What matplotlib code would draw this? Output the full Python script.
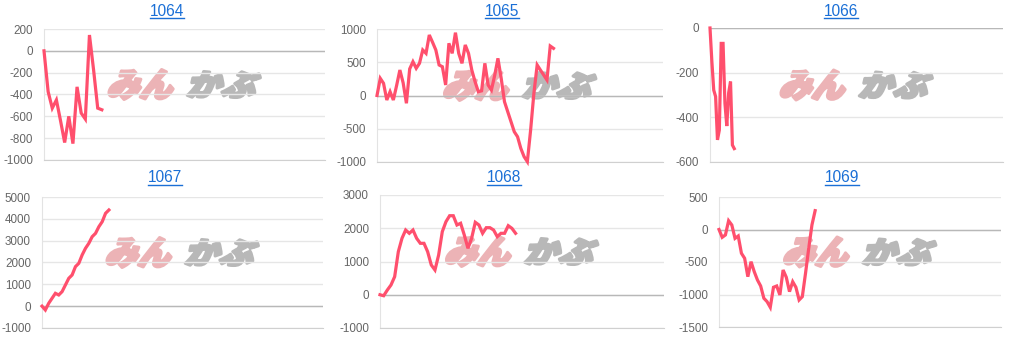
import numpy as np
import matplotlib
matplotlib.use("Agg")
import matplotlib.pyplot as plt
from matplotlib.textpath import TextPath
from matplotlib.font_manager import FontProperties
from matplotlib.patches import PathPatch
from matplotlib.transforms import Affine2D, IdentityTransform
from matplotlib.lines import Line2D

plt.rcParams['font.family'] = ['Liberation Sans', 'DejaVu Sans']

# --- data ---
codes = ['1064', '1065', '1066', '1067', '1068', '1069']

s1064 = [0, -374, -525, -450, -640, -840, -600, -850, -330, -570, -625, 145, -175, -525, -540]
s1065 = [0, 258, 183, -68, 57, -68, 150, 383, 190, -117, 400, 508, 409, 484, 684, 634, 910,
         800, 684, 459, 433, 158, 785, 634, 945, 634, 484, 760, 634, 383, 208, 57, 70, 484,
         158, 83, 300, 559, 258, -93, -244, -394, -545, -620, -795, -920, -995, -519, 33,
         459, 383, 308, 233, 744, 709]
s1066 = [0, -150, -278, -307, -501, -457, -69, -69, -337, -439, -290, -240, -524, -540]
s1067 = [0, -175, 131, 360, 589, 512, 665, 970, 1276, 1428, 1810, 1963, 2344, 2650, 2879,
         3182, 3335, 3640, 3869, 4253, 4405]
s1068 = [0, -30, 142, 293, 543, 1295, 1697, 1947, 1848, 1947, 1697, 1547, 1547, 1295, 894,
         744, 1195, 1898, 2197, 2377, 2377, 2098, 2150, 1797, 1397, 1697, 2179, 2098, 1848,
         2017, 2017, 1947, 1747, 1848, 1848, 2077, 1997, 1848]
s1069 = [0, -120, -84, 135, 69, -136, -100, -366, -443, -726, -495, -649, -777, -869, -1058,
         -1110, -1197, -889, -869, -1007, -623, -735, -956, -803, -889, -1084, -1033, -674,
         -289, 69, 290]
series = [s1064, s1065, s1066, s1067, s1068, s1069]

yticks = [np.arange(-1000, 201, 200), np.arange(-1000, 1001, 500), np.arange(-600, 1, 200),
          np.arange(-1000, 5001, 1000), np.arange(-1000, 3001, 1000), np.arange(-1500, 501, 500)]

# --- layout (pixels) ---
W, H = 1011, 337
rects = [(44, 325, 29, 160), (377, 663, 29, 162), (710, 1003, 28, 162),
         (42, 323, 197, 328), (380, 664, 195, 328), (719, 1001, 197, 327)]
xspan = [68, 87.5, 157, 84, 77.5, 88]
title_pos = [(167, 11), (502, 11), (841, 11), (165, 178), (504, 178), (842, 178)]

line_color = '#ff4f6d'
fig = plt.figure(figsize=(W / 100, H / 100), dpi=100)

cjk = FontProperties(family='Noto Sans CJK JP', weight='black')


def logo_part(ax, text, x0, x1, ytop, ybot, color):
    path = TextPath((0, 0), text, prop=cjk, size=1)
    ext = path.get_extents()
    h = ybot - ytop
    skew = np.tan(np.radians(18)) * h
    w = (x1 - x0) - skew
    tr = (Affine2D().translate(-ext.x0, -ext.y0)
          .scale(w / ext.width, h / ext.height)
          .skew_deg(18, 0)
          .translate(x0, H - ybot))
    patch = PathPatch(tr.transform_path(path), facecolor=color, edgecolor=color, lw=2.2,
                      joinstyle='round', transform=IdentityTransform(), zorder=0.5, clip_on=False)
    ax.add_artist(patch)


texts = []
for i, ax_data in enumerate(series):
    l, r, t, b = rects[i]
    ax = fig.add_axes([l / W, 1 - b / H, (r - l) / W, (b - t) / H])
    x = np.arange(len(ax_data))
    ax.plot(x, ax_data, color=line_color, lw=2.3, solid_joinstyle='miter', zorder=3, clip_on=False)
    ax.set_xlim(0, xspan[i])
    yt = yticks[i]
    ax.set_ylim(yt[0], yt[-1])
    ax.set_yticks(yt)
    ax.set_yticklabels([str(v) for v in yt])
    ax.set_xticks([])
    ax.tick_params(axis='y', length=0, pad=8, labelsize=8.4, labelcolor='#666666')
    for s in ['top', 'right']:
        ax.spines[s].set_visible(False)
    ax.spines['left'].set_color('#e3e3e3')
    ax.spines['bottom'].set_color('#d0d0d0')
    ax.grid(axis='y', color='#e6e6e6', lw=1, zorder=1)
    ax.axhline(0, color='#b8b8b8', lw=1, zorder=2)
    ax.set_axisbelow(True)

    # watermark
    cx = (l + r) / 2
    cy = (t + b) / 2 - 10
    logo_part(ax, 'みん', cx - 78, cx - 5, cy - 15, cy + 15, '#ecb3b6')
    logo_part(ax, 'かぶ', cx + 2, cx + 78, cy - 13, cy + 13, '#b8b8b8')

    tx, ty = title_pos[i]
    texts.append(fig.text(tx / W, 1 - ty / H, codes[i], ha='center', va='center',
                          fontsize=11.2, color='#1a6fd6'))

# underline the titles like links
fig.canvas.draw()
renderer = fig.canvas.get_renderer()
for t in texts:
    bb = t.get_window_extent(renderer)
    y = bb.y0 + 1
    fig.add_artist(Line2D([bb.x0, bb.x1], [y, y], color='#1a6fd6', lw=1,
                          transform=IdentityTransform()))

fig.savefig('out.png', dpi=100)
